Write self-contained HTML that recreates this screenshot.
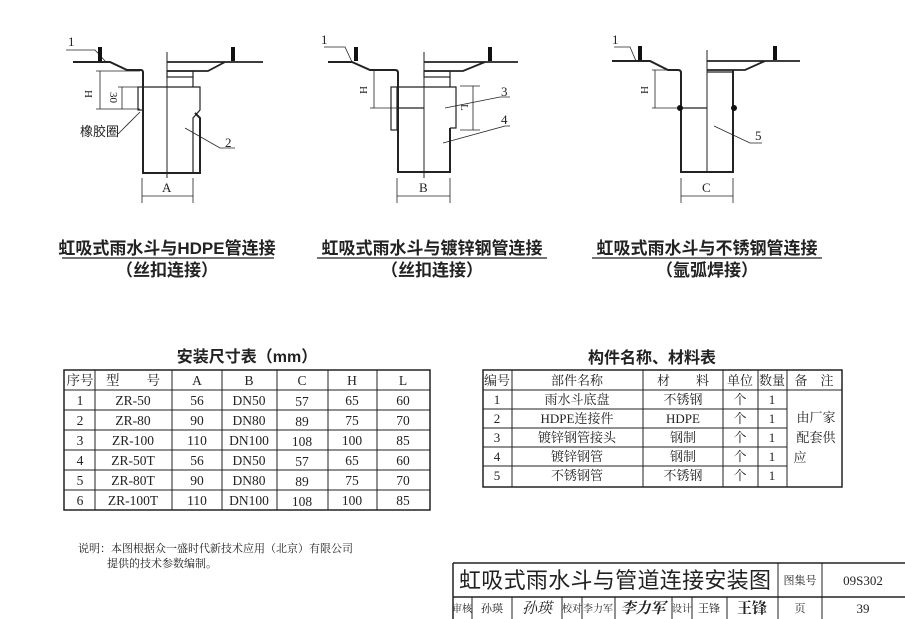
<!DOCTYPE html>
<html><head><meta charset="utf-8"><style>
html,body{margin:0;padding:0;background:#fff;}
svg{display:block;}
text{font-family:"Liberation Serif","Noto Serif CJK SC",serif;fill:#222;}
.s{font-family:"Liberation Sans","Noto Sans CJK SC",sans-serif;}
</style></head><body>
<svg width="905" height="619" viewBox="0 0 905 619" xmlns="http://www.w3.org/2000/svg">
<g stroke="#222" fill="none" stroke-width="1.2">
<path d="M73 62 H110 L127 70 H141 Q143 70 143 73 V173 H200 V118 L195 113" stroke-width="2"/>
<path d="M143 87 H200 V110 L193 118 V173"/>
<line x1="167" y1="52" x2="167" y2="178" stroke-width="1"/>
<path d="M167 62 H263 M225 62 L208 71 H167" stroke-width="1.8"/>
<rect x="167" y="71" width="26" height="6"/><line x1="193" y1="77" x2="193" y2="87"/>
<rect x="138" y="87" width="5" height="23"/>
<line x1="96" y1="71" x2="140" y2="71" stroke-width="0.8"/><line x1="96" y1="109" x2="140" y2="109" stroke-width="0.8"/>
<line x1="100" y1="71" x2="100" y2="109" stroke-width="0.8"/>
<line x1="118" y1="87" x2="138" y2="87" stroke-width="0.8"/><line x1="122" y1="87" x2="122" y2="109" stroke-width="0.8"/>
<path d="M142 178 V203 M193 178 V203 M142 196 H193" stroke-width="0.8"/>
<path d="M66 50 H95 L106 62 M118 134 L140 112 M185 128 L220 148 H235" stroke-width="0.8"/>
<path d="M328 62 H352 L370 70 H395 Q398 70 398 73 V172 H450 V128" stroke-width="2"/>
<path d="M398 87 H456 V128 H450 M398 108 H424"/>
<line x1="424" y1="52" x2="424" y2="178" stroke-width="1"/>
<path d="M424 62 H518 M485 62 L463 71 H424" stroke-width="1.8"/>
<rect x="424" y="71" width="26" height="6"/><line x1="450" y1="77" x2="450" y2="87"/>
<rect x="391" y="87" width="6" height="43"/>
<path d="M370 70 H398 M370 108 H398 M374 70 V108 M460 86 H480 M460 130 H480 M473 86 V130" stroke-width="0.8"/>
<path d="M397 178 V203 M450 178 V203 M397 196 H450" stroke-width="0.8"/>
<path d="M324 47 H345 L352 62 M445 108 L500 97 H510 M443 143 L505 126 H510" stroke-width="0.8"/>
<path d="M612 61 H650 L668 70 H678 Q681 70 681 73 V172 H733 V70" stroke-width="2"/>
<path d="M681 108 H707"/>
<line x1="707" y1="50" x2="707" y2="172" stroke-width="1"/>
<path d="M707 61 H800 M765 61 L745 70 H707" stroke-width="1.8"/>
<line x1="707" y1="72" x2="733" y2="72"/>
<path d="M652 70 H678 M652 108 H678 M655 70 V108" stroke-width="0.8"/>
<path d="M681 178 V203 M733 178 V203 M681 196 H733" stroke-width="0.8"/>
<path d="M614 47 H630 L636 61 M714 126 L750 143 H762" stroke-width="0.8"/>
</g>
<g fill="#111">
<rect x="98" y="47" width="4" height="14"/><rect x="231" y="47" width="4" height="14"/>
<rect x="354" y="47" width="4" height="14"/><rect x="488" y="47" width="4" height="14"/>
<rect x="638" y="46" width="4" height="14"/><rect x="773" y="46" width="4" height="14"/>
<circle cx="680" cy="108" r="3"/><circle cx="734" cy="108" r="3"/>
</g>
<g font-size="13">
<text x="68" y="46">1</text><text x="225" y="147">2</text>
<text x="162" y="192">A</text>
<text x="321" y="44">1</text><text x="501" y="96">3</text><text x="501" y="124">4</text>
<text x="419" y="192">B</text>
<text x="612" y="44">1</text><text x="755" y="140">5</text>
<text x="702" y="192">C</text>
<text transform="translate(85,90) rotate(90)" font-size="11">H</text>
<text transform="translate(110,92) rotate(90)" font-size="11">30</text>
<text transform="translate(360,86) rotate(90)" font-size="11">H</text>
<text transform="translate(461,104) rotate(90)" font-size="11">L</text>
<text transform="translate(641,86) rotate(90)" font-size="11">H</text>
<text x="80" y="136" font-size="13" class="s">橡胶圈</text>
</g>
<g font-size="17" class="s" text-anchor="middle" font-weight="bold">
<text x="167" y="254" class="s">虹吸式雨水斗与HDPE管连接</text>
<text x="167" y="276" class="s">（丝扣连接）</text>
<text x="432" y="254" class="s">虹吸式雨水斗与镀锌钢管连接</text>
<text x="432" y="276" class="s">（丝扣连接）</text>
<text x="707" y="254" class="s">虹吸式雨水斗与不锈钢管连接</text>
<text x="707" y="276" class="s">（氩弧焊接）</text>
</g>
<g stroke="#222" stroke-width="1.2">
<line x1="62" y1="258" x2="274" y2="258"/><line x1="317" y1="258" x2="547" y2="258"/><line x1="592" y1="258" x2="822" y2="258"/>
</g>
<text x="247" y="362" font-size="16" text-anchor="middle" class="s" font-weight="bold">安装尺寸表（mm）</text>
<g stroke="#222" stroke-width="1" fill="none">
<rect x="64" y="370" width="366" height="140" stroke-width="1.5"/>
<path d="M64 390H430M64 410H430M64 430H430M64 450H430M64 470H430M64 490H430"/>
<path d="M95 370V510M172 370V510M222 370V510M277 370V510M328 370V510M377 370V510"/>
</g>
<g font-size="13.5" text-anchor="middle">
<text x="80" y="385">序号</text><text x="133" y="385">型　　号</text><text x="197" y="385">A</text><text x="249" y="385">B</text><text x="302" y="385">C</text><text x="352" y="385">H</text><text x="403" y="385">L</text>
<text x="80" y="405">1</text><text x="133" y="405">ZR-50</text><text x="197" y="405">56</text><text x="249" y="405">DN50</text><text x="302" y="406">57</text><text x="352" y="405">65</text><text x="403" y="405">60</text>
<text x="80" y="425">2</text><text x="133" y="425">ZR-80</text><text x="197" y="425">90</text><text x="249" y="425">DN80</text><text x="302" y="426">89</text><text x="352" y="425">75</text><text x="403" y="425">70</text>
<text x="80" y="445">3</text><text x="133" y="445">ZR-100</text><text x="197" y="445">110</text><text x="249" y="445">DN100</text><text x="302" y="446">108</text><text x="352" y="445">100</text><text x="403" y="445">85</text>
<text x="80" y="465">4</text><text x="133" y="465">ZR-50T</text><text x="197" y="465">56</text><text x="249" y="465">DN50</text><text x="302" y="466">57</text><text x="352" y="465">65</text><text x="403" y="465">60</text>
<text x="80" y="485">5</text><text x="133" y="485">ZR-80T</text><text x="197" y="485">90</text><text x="249" y="485">DN80</text><text x="302" y="486">89</text><text x="352" y="485">75</text><text x="403" y="485">70</text>
<text x="80" y="505">6</text><text x="133" y="505">ZR-100T</text><text x="197" y="505">110</text><text x="249" y="505">DN100</text><text x="302" y="506">108</text><text x="352" y="505">100</text><text x="403" y="505">85</text>
</g>
<text x="652" y="363" font-size="16" text-anchor="middle" class="s" font-weight="bold">构件名称、材料表</text>
<g stroke="#222" stroke-width="1" fill="none">
<rect x="483" y="370" width="359" height="117" stroke-width="1.5"/>
<path d="M483 390H842M483 409H787M483 428H787M483 447H787M483 466H787"/>
<path d="M512 370V487M643 370V487M723 370V487M758 370V487M787 370V487"/>
</g>
<g font-size="13" text-anchor="middle">
<text x="497" y="385">编号</text><text x="577" y="385">部件名称</text><text x="683" y="385">材　　料</text><text x="740" y="385">单位</text><text x="772" y="385">数量</text><text x="814" y="385">备　注</text>
<text x="497" y="404">1</text><text x="577" y="404">雨水斗底盘</text><text x="683" y="404">不锈钢</text><text x="740" y="404">个</text><text x="772" y="404">1</text>
<text x="497" y="423">2</text><text x="577" y="423">HDPE连接件</text><text x="683" y="423">HDPE</text><text x="740" y="423">个</text><text x="772" y="423">1</text>
<text x="497" y="442">3</text><text x="577" y="442">镀锌钢管接头</text><text x="683" y="442">钢制</text><text x="740" y="442">个</text><text x="772" y="442">1</text>
<text x="497" y="461">4</text><text x="577" y="461">镀锌钢管</text><text x="683" y="461">钢制</text><text x="740" y="461">个</text><text x="772" y="461">1</text>
<text x="497" y="480">5</text><text x="577" y="480">不锈钢管</text><text x="683" y="480">不锈钢</text><text x="740" y="480">个</text><text x="772" y="480">1</text>
<text x="816" y="422">由厂家</text><text x="816" y="442">配套供</text><text x="800" y="462">应</text>
</g>
<text x="78" y="552" font-size="11">说明：本图根据众一盛时代新技术应用（北京）有限公司</text>
<text x="107" y="567" font-size="11">提供的技术参数编制。</text>
<g stroke="#222" stroke-width="1" fill="none">
<path d="M453 563H905M453 597H905M453 563V619" stroke-width="1.5"/>
<path d="M778 563V619M822 563V619M472 597V619M512 597V619M562 597V619M582 597V619M615 597V619M672 597V619M692 597V619M727 597V619"/>
</g>
<text x="615" y="588" font-size="22" text-anchor="middle" class="s" textLength="312">虹吸式雨水斗与管道连接安装图</text>
<g font-size="11" text-anchor="middle">
<text x="800" y="584">图集号</text><text x="863" y="585" font-size="13">09S302</text>
<text x="462" y="612" font-size="10">审核</text><text x="492" y="612">孙瑛</text><text x="537" y="613" font-size="15" font-style="italic">孙瑛</text>
<text x="572" y="612" font-size="10">校对</text><text x="598" y="612" font-size="10">李力军</text><text x="643" y="613" font-size="15" font-style="italic" font-weight="bold">李力军</text>
<text x="682" y="612" font-size="10">设计</text><text x="709" y="612">王锋</text><text x="752" y="613" font-size="15" font-weight="bold">王锋</text>
<text x="800" y="612">页</text><text x="863" y="613" font-size="13">39</text>
</g>
</svg>
</body></html>
